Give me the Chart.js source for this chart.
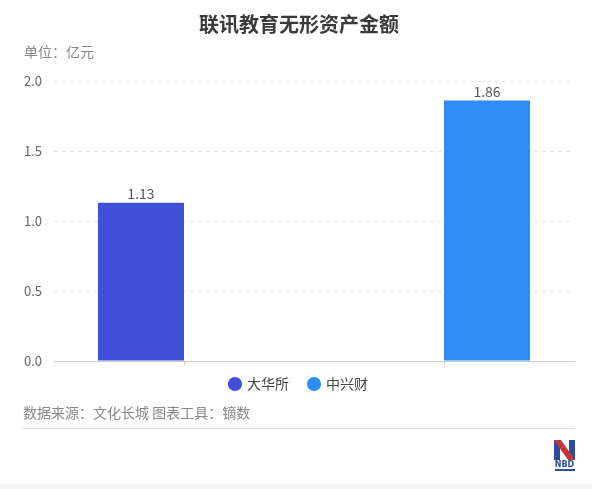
<!DOCTYPE html>
<html>
<head>
<meta charset="utf-8">
<script src="https://cdn.jsdelivr.net/npm/chart.js@4.4.1/dist/chart.umd.min.js"></script>
<style>
  html, body { margin: 0; padding: 0; background: #fff; }
  #c { display: block; }
</style>
</head>
<body>
<canvas id="c" width="592" height="489"></canvas>
<script>
// data
var categories = ['大华所', '中兴财'];
var seriesNames = ['大华所', '中兴财'];
var daHuaValues = [1.13, null];
var zhongXingValues = [null, 1.86];
var seriesColors = ['#3f4fd9', '#2e8cf7'];
var yTicks = [0, 0.5, 1.0, 1.5, 2.0];

var cjk = '"Noto Sans CJK SC", "Noto Sans", sans-serif';

// value labels above bars
var barLabels = {
    id: 'barLabels',
    afterDatasetsDraw: function(chart) {
        var ctx = chart.ctx;
        ctx.save();
        ctx.font = '14px ' + cjk;
        ctx.fillStyle = '#555';
        ctx.textAlign = 'center';
        ctx.textBaseline = 'bottom';
        chart.data.datasets.forEach(function(ds, i) {
            chart.getDatasetMeta(i).data.forEach(function(bar, j) {
                if (ds.data[j] == null) return;
                ctx.fillText(ds.data[j].toFixed(2), bar.x, bar.y - 2);
            });
        });
        ctx.restore();
    }
};

// source line, rule, logo
var chrome = {
    id: 'chrome',
    afterDraw: function(chart) {
        var ctx = chart.ctx;
        ctx.save();
        ctx.font = '14px ' + cjk;
        ctx.fillStyle = '#888';
        ctx.textAlign = 'left';
        ctx.textBaseline = 'middle';
        ctx.fillText('数据来源：文化长城 图表工具：镝数', 23, 413);

        ctx.strokeStyle = '#d9d9d9';
        ctx.lineWidth = 1;
        ctx.beginPath();
        ctx.moveTo(23, 428.5);
        ctx.lineTo(575, 428.5);
        ctx.stroke();

        // NBD logo
        ctx.fillStyle = '#2b4f9e';
        ctx.fillRect(554, 440, 6, 20);
        ctx.fillRect(569, 440, 6, 20);
        ctx.fillStyle = '#c8343a';
        ctx.beginPath();
        ctx.moveTo(554, 440);
        ctx.lineTo(561, 440);
        ctx.lineTo(575, 460);
        ctx.lineTo(568, 460);
        ctx.closePath();
        ctx.fill();
        ctx.fillStyle = '#2b4f9e';
        ctx.font = 'bold 8px "DejaVu Sans", sans-serif';
        ctx.textAlign = 'center';
        ctx.fillText('NBD', 564.5, 465);
        ctx.fillRect(555, 469, 20, 2);

        ctx.fillStyle = '#f4f4f4';
        ctx.fillRect(0, 484, 592, 5);
        ctx.restore();
    }
};

var chart = new Chart(document.getElementById('c').getContext('2d'), {
    type: 'bar',
    data: {
        labels: categories,
        datasets: [{
            label: seriesNames[0],
            data: daHuaValues,
            backgroundColor: seriesColors[0]
        }, {
            label: seriesNames[1],
            data: zhongXingValues,
            backgroundColor: seriesColors[1]
        }]
    },
    options: {
        responsive: false,
        animation: false,
        barPercentage: 1,
        categoryPercentage: 0.662,
        layout: {
            padding: { top: 0, left: 24, right: 18, bottom: 84 }
        },
        plugins: {
            title: {
                display: true,
                text: '联讯教育无形资产金额',
                color: '#3a3a3a',
                font: { family: cjk, size: 20, weight: 'bold', lineHeight: 1.2 },
                padding: { top: 12, bottom: 4 }
            },
            subtitle: {
                display: true,
                text: '单位：亿元',
                align: 'start',
                color: '#888',
                font: { family: cjk, size: 14, lineHeight: 1.2 },
                padding: { top: 3.6, bottom: 20.6 }
            },
            legend: {
                position: 'bottom',
                labels: {
                    usePointStyle: true,
                    pointStyle: 'circle',
                    boxWidth: 10,
                    boxHeight: 10,
                    padding: 20,
                    color: '#444',
                    font: { family: cjk, size: 14 }
                }
            },
            tooltip: { enabled: false }
        },
        scales: {
            x: {
                ticks: { display: false },
                grid: {
                    offset: false,
                    drawOnChartArea: false,
                    drawTicks: true,
                    tickLength: 4,
                    tickColor: '#ccc'
                },
                border: { color: '#ccc' },
                afterFit: function(s) { s.height = -4; }
            },
            y: {
                min: 0,
                max: 2,
                afterBuildTicks: function(s) {
                    s.ticks = yTicks.map(function(v) { return { value: v }; });
                },
                ticks: {
                    padding: 12,
                    color: '#666',
                    font: { family: cjk, size: 13 },
                    callback: function(v) { return v.toFixed(1); }
                },
                grid: {
                    drawTicks: false,
                    color: function(c) { return c.tick && c.tick.value === 0 ? 'rgba(0,0,0,0)' : '#e3e3e3'; }
                },
                border: { display: false, dash: [4, 4] },
                afterFit: function(s) { s.width = 30; }
            }
        }
    },
    plugins: [barLabels, chrome]
});
</script>
</body>
</html>
